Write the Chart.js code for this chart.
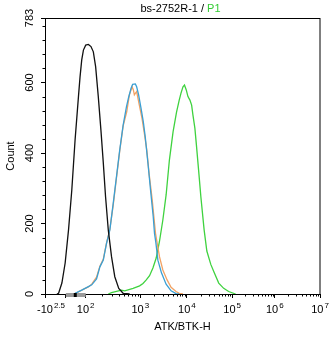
<!DOCTYPE html>
<html>
<head>
<meta charset="utf-8">
<script src="https://cdn.jsdelivr.net/npm/chart.js@4/dist/chart.umd.min.js"></script>
<style>
  html, body { margin: 0; padding: 0; background: #ffffff; }
  #c { display: block; }
</style>
</head>
<body>
<canvas id="c" width="334" height="337"></canvas>
<script>
// ---------- text ----------
const TITLE_MAIN = 'bs-2752R-1 / ';
const TITLE_GATE = 'P1';
const X_TITLE = 'ATK/BTK-H';
const Y_TITLE = 'Count';

// ---------- axes ----------
const Y_MAX = 783;
const Y_TICKS = [0, 200, 400, 600, 783];
const Y_MINOR_STEP = 40;
const X_TICK_VALUES = [-316.2, 0, 100, 1e3, 1e4, 1e5, 1e6, 1e7];
const X_TICK_BASES  = ['-10', '', '10', '10', '10', '10', '10', '10'];
const X_TICK_EXPS   = ['2.5', '', '2', '3', '4', '5', '6', '7'];
// biexponential display: intensity anchors -> display channel (0..1000)
const AXIS_VALUES   = [-316.2, 0, 100, 1e3, 1e4, 1e5, 1e6, 1e7];
const AXIS_CHANNELS = [0, 75.8, 148.0, 346.6, 516.2, 680.5, 835.7, 1000];
// gate marker on the axis (intensity)
const GATE_RANGE = [0, 100];
const GATE_MARK = [40, 55];

// ---------- series (intensity, count) ----------
const blackX = [-136, -110, -60, -10.5, 13.5, 30, 46.5, 63.5, 71.5, 80, 88.5, 100, 112, 125, 138, 152, 170, 190, 210, 231, 259, 297, 341, 403, 485, 639];
const blackY = [0, 2, 31, 88, 182, 295, 437, 560, 616, 664, 692, 706, 708, 702, 687, 645, 560, 465, 372, 276, 182, 106, 49, 16, 2, 0];

const orangeX = [13.5, 46.5, 80, 112, 129, 158, 182, 210, 241, 277, 319, 366, 420, 485, 564, 631, 707, 746, 778, 811, 857, 893, 959, 1087, 1216, 1375, 1554, 1800, 2117, 2574, 3041, 3753, 4566, 5835, 6857, 8220];
const orangeY = [0, 1, 11, 20, 28, 48, 79, 99, 145, 184, 252, 329, 406, 477, 517, 565, 588, 579, 565, 569, 574, 560, 536, 498, 457, 409, 338, 267, 172, 106, 68, 40, 19, 7, 2, 0];

const blueX = [13.5, 46.5, 80, 112, 129, 158, 182, 210, 241, 277, 319, 366, 420, 485, 557, 613, 678, 724, 811, 857, 931, 1035, 1158, 1277, 1458, 1656, 1891, 2015, 2158, 2380, 2840, 3574, 4566, 5835, 6760];
const blueY = [0, 2, 11, 21, 26, 43, 77, 96, 144, 182, 257, 333, 409, 479, 531, 559, 584, 595, 596, 588, 565, 527, 489, 445, 371, 295, 219, 172, 145, 96, 60, 28, 9, 1, 0];

const greenX = [259, 297, 451, 518, 737, 971, 1141, 1342, 1577, 1863, 2190, 2574, 3041, 3574, 4202, 5036, 5978, 6825, 7453, 8222, 8848, 9663, 10520, 11640, 12690, 13550, 14990, 16180, 18080, 20310, 23990, 27540, 33700, 39810, 50500, 65020, 83770, 120600];
const greenY = [0, 4, 11, 9, 16, 23, 30, 40, 52, 74, 102, 149, 210, 281, 380, 460, 516, 550, 570, 588, 593, 579, 560, 550, 536, 508, 470, 423, 352, 276, 182, 122, 84, 62, 31, 16, 7, 0];

// ---------- transform ----------
function toChannel(v) {
  const A = AXIS_VALUES, C = AXIS_CHANNELS;
  let i = 0;
  while (i < A.length - 2 && v > A[i + 1]) i++;
  const a = A[i], b = A[i + 1];
  let t;
  if (a > 0) t = (Math.log10(v) - Math.log10(a)) / (Math.log10(b) - Math.log10(a));
  else t = (v - a) / (b - a);
  return C[i] + t * (C[i + 1] - C[i]);
}
function pts(xs, ys) { return xs.map((x, i) => ({ x: toChannel(x), y: ys[i] })); }

const FONT = '"Liberation Sans", Arial, sans-serif';

const decor = {
  id: 'decor',
  afterDraw(chart) {
    const ctx = chart.ctx, a = chart.chartArea;
    const xs = chart.scales.x, ys = chart.scales.y;
    ctx.save();
    // box
    ctx.strokeStyle = '#000'; ctx.lineWidth = 1;
    ctx.strokeRect(Math.round(a.left) + 0.5, Math.round(a.top) + 0.5,
                   Math.round(a.right - a.left) - 1 + 0.5, Math.round(a.bottom - a.top));
    // y minor ticks
    ctx.beginPath();
    for (let v = Y_MINOR_STEP; v < Y_MAX; v += Y_MINOR_STEP) {
      if (v % 200 === 0) continue;
      const y = Math.round(ys.getPixelForValue(v)) + 0.5;
      ctx.moveTo(a.left - 2.5, y); ctx.lineTo(a.left, y);
    }
    // x minor ticks
    for (let e = 2; e < 7; e++) {
      for (let k = 2; k <= 9; k++) {
        const x = Math.round(xs.getPixelForValue(toChannel(k * Math.pow(10, e)))) + 0.5;
        ctx.moveTo(x, a.bottom); ctx.lineTo(x, a.bottom + 2.5);
      }
    }
    ctx.stroke();
    // gate marker
    const g0 = xs.getPixelForValue(toChannel(GATE_RANGE[0]));
    const g1 = xs.getPixelForValue(toChannel(GATE_RANGE[1]));
    ctx.fillStyle = '#9a9a9a';
    ctx.fillRect(g0, a.bottom - 1, g1 - g0, 4);
    const m0 = xs.getPixelForValue(toChannel(GATE_MARK[0]));
    const m1 = xs.getPixelForValue(toChannel(GATE_MARK[1]));
    ctx.fillStyle = '#000';
    ctx.fillRect(m0, a.bottom - 1, m1 - m0, 4);
    // x tick labels with superscripts
    ctx.fillStyle = '#000';
    ctx.textBaseline = 'alphabetic';
    ctx.textAlign = 'left';
    X_TICK_VALUES.forEach((v, i) => {
      if (!X_TICK_BASES[i]) return;
      const px = xs.getPixelForValue(toChannel(v));
      ctx.font = '11px ' + FONT;
      const wb = ctx.measureText(X_TICK_BASES[i]).width;
      ctx.font = '8px ' + FONT;
      const we = ctx.measureText(X_TICK_EXPS[i]).width;
      const start = i === 0 ? px - wb / 2 : px - (wb + we + 1) / 2;
      ctx.font = '11px ' + FONT;
      ctx.fillText(X_TICK_BASES[i], start, a.bottom + 19);
      ctx.font = '8px ' + FONT;
      ctx.fillText(X_TICK_EXPS[i], start + wb + 1, a.bottom + 14);
    });
    // title (two colours)
    ctx.font = '11px ' + FONT;
    const w1 = ctx.measureText(TITLE_MAIN).width;
    const w2 = ctx.measureText(TITLE_GATE).width;
    const cx = (a.left + a.right) / 2 - 2;
    const tx = cx - (w1 + w2) / 2;
    ctx.fillStyle = '#000';
    ctx.fillText(TITLE_MAIN, tx, 12);
    ctx.fillStyle = '#33cc33';
    ctx.fillText(TITLE_GATE, tx + w1, 12);
    ctx.restore();
  }
};

const mk = (label, xs, ys, color, order) => ({
  label, data: pts(xs, ys), borderColor: color, backgroundColor: color,
  borderWidth: 1.3, pointRadius: 0, tension: 0, fill: false, order
});

new Chart(document.getElementById('c'), {
  type: 'line',
  data: {
    datasets: [
      mk('Isotype', blackX, blackY, '#111111', 1),
      mk('Sample A', blueX, blueY, '#3a9fd4', 2),
      mk('Sample B', orangeX, orangeY, '#f2a263', 3),
      mk('P1', greenX, greenY, '#3fd23f', 4)
    ]
  },
  options: {
    responsive: false,
    animation: false,
    devicePixelRatio: 1,
    layout: { padding: { top: 18, right: 14, left: 0, bottom: 0 } },
    plugins: { legend: { display: false }, tooltip: { enabled: false }, title: { display: false } },
    scales: {
      x: {
        type: 'linear', min: 0, max: 1000,
        afterBuildTicks: (s) => { s.ticks = X_TICK_VALUES.map(v => ({ value: toChannel(v) })); },
        ticks: { display: false },
        grid: { display: true, drawOnChartArea: false, drawTicks: true, tickLength: 4, color: '#000' },
        border: { display: true, color: '#000', width: 1 },
        title: { display: true, text: X_TITLE, color: '#000', font: { size: 11, family: FONT }, padding: { top: 22.8, bottom: 3 } }
      },
      y: {
        type: 'linear', min: 0, max: Y_MAX,
        afterBuildTicks: (s) => { s.ticks = Y_TICKS.map(v => ({ value: v })); },
        ticks: { minRotation: 90, maxRotation: 90, crossAlign: 'center', padding: 2, color: '#000', font: { size: 11, family: FONT }, autoSkip: false },
        grid: { display: true, drawOnChartArea: false, drawTicks: true, tickLength: 4, color: '#000' },
        border: { display: true, color: '#000', width: 1 },
        title: { display: true, text: Y_TITLE, color: '#000', font: { size: 11, family: FONT }, padding: { top: 4, bottom: 6.6 } }
      }
    }
  },
  plugins: [decor]
});
</script>
</body>
</html>
